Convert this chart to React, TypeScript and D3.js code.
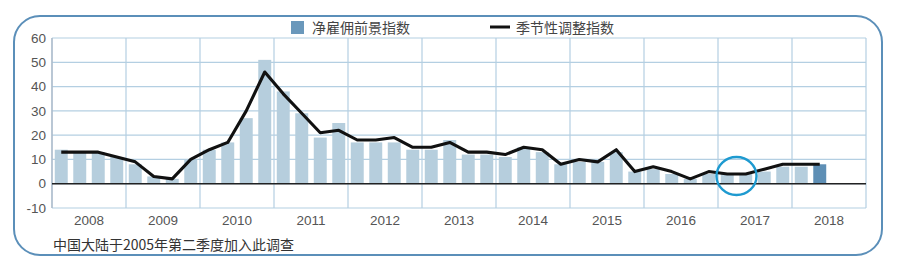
import React from "react";
import * as d3 from "d3";

const years = ["2008","2009","2010","2011","2012","2013","2014","2015","2016","2017","2018"];
const quarters = ["Q1","Q2","Q3","Q4"];
const netOutlook = [14,13,13,11,8,3,2,10,14,17,27,51,38,29,19,25,17,17,17,14,14,18,12,12,11,15,13,8,9,9,13,5,6,4,2,4,4,4,5,7,7,8];
const seasonAdj = [13,13,13,11,9,3,2,10,14,17,30,46,37,29,21,22,18,18,19,15,15,17,13,13,12,15,14,8,10,9,14,5,7,5,2,5,4,4,6,8,8,8];
const yTicks = [-10,0,10,20,30,40,50,60];
const legendBar = "净雇佣前景指数";
const legendLine = "季节性调整指数";
const footnote = "中国大陆于2005年第二季度加入此调查";

export default function App() {
  const W = 900, H = 267;
  const left = 52, right = 866, top = 38, bottom = 208;
  const allQ = years.flatMap(y => quarters.map(q => y + q));
  const x = d3.scaleBand<string>().domain(allQ).range([left, right]).paddingInner(0.3).paddingOuter(0.15);
  const y = d3.scaleLinear().domain([-10, 60]).range([bottom, top]);
  const center = (i: number) => (x(allQ[i]) as number) + x.bandwidth() / 2;
  const yearStart = (k: number) => left + (right - left) * k / years.length;
  const line = d3.line<number>().x((_, i) => center(i)).y(d => y(d));
  const font = "'Noto Sans CJK SC', 'Liberation Sans', Arial, sans-serif";
  const numFont = "'Liberation Sans', Arial, sans-serif";
  const gridColor = "#b4cfe2";
  const cx = (center(36) + center(37)) / 2;
  return (
    <svg width={W} height={H} style={{ position: "absolute", left: 0, top: 0, background: "#fff" }} fontFamily={font}>
      <rect x={14} y={16} width={868} height={239} rx={26} ry={26} fill="none" stroke="#5b8fb9" strokeWidth={2} />
      {yTicks.map(t => (
        <line key={"h" + t} x1={left} x2={right} y1={y(t)} y2={y(t)} stroke={gridColor} strokeWidth={1.2} />
      ))}
      {d3.range(years.length + 1).map(k => (
        <line key={"v" + k} x1={yearStart(k)} x2={yearStart(k)} y1={top} y2={bottom} stroke={gridColor} strokeWidth={1.2} />
      ))}
      <line x1={left} x2={left} y1={top} y2={bottom} stroke="#a9b6c4" strokeWidth={1.2} />
      {netOutlook.map((v, i) => (
        <rect key={"b" + i} x={x(allQ[i])} width={x.bandwidth()} y={y(Math.max(0, v))} height={Math.abs(y(v) - y(0))}
          fill={i === netOutlook.length - 1 ? "#5e8fb5" : "#b6cedd"} />
      ))}
      <line x1={left} x2={right} y1={y(0)} y2={y(0)} stroke="#222" strokeWidth={1.5} />
      <path d={line(seasonAdj) || ""} fill="none" stroke="#111" strokeWidth={3.1} strokeLinejoin="round" />
      <ellipse cx={cx} cy={y(3.2)} rx={20} ry={19} fill="none" stroke="#1e9ad0" strokeWidth={2.4} />
      {yTicks.map(t => (
        <text key={"yt" + t} x={46} y={y(t)} dy="0.35em" textAnchor="end" fontSize={13.5} fill="#555" fontFamily={numFont}>{t}</text>
      ))}
      {years.map((yr, k) => (
        <text key={"xt" + yr} x={(yearStart(k) + yearStart(k + 1)) / 2} y={225} textAnchor="middle" fontSize={13.5} fill="#555" fontFamily={numFont}>{yr}</text>
      ))}
      <text x={53} y={250} fontSize={14} fill="#333">{footnote}</text>
      <rect x={291} y={21} width={13} height={13} fill="#6a98bb" />
      <text x={312} y={33} fontSize={14} fill="#444">{legendBar}</text>
      <line x1={490} x2={510} y1={27} y2={27} stroke="#111" strokeWidth={3} />
      <text x={516} y={33} fontSize={14} fill="#444">{legendLine}</text>
    </svg>
  );
}
